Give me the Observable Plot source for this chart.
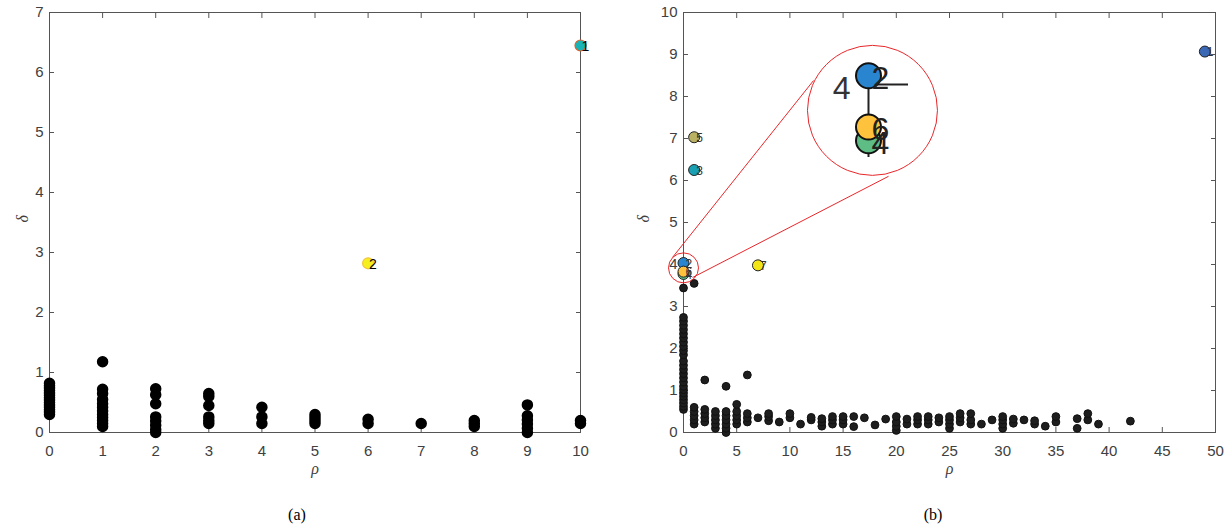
<!DOCTYPE html>
<html><head><meta charset="utf-8">
<script src="https://cdn.jsdelivr.net/npm/d3@7"></script>
<script src="https://cdn.jsdelivr.net/npm/@observablehq/plot@0.6"></script>
<style>
body{margin:0;background:#fff;}
#wrap{position:relative;width:1230px;height:528px;overflow:hidden;background:#fff;}
.panel{position:absolute;top:0;width:615px;height:500px;}
.cap{position:absolute;top:505px;font-family:"Liberation Serif","Times New Roman",serif;font-size:16px;color:#000;transform:translateX(-50%);line-height:20px;}
#inset{position:absolute;width:130px;height:130px;clip-path:circle(64px at 65px 65px);}
</style></head><body>
<div id="wrap">
  <div id="pa" class="panel" style="left:0px"></div>
  <div id="pb" class="panel" style="left:615px"></div>
  <div id="inset"></div>
  <div class="cap" style="left:297px">(a)</div>
  <div class="cap" style="left:933px">(b)</div>
</div>
<script>
// ---------- Panel (a) data ----------
const aXTicks = [0,1,2,3,4,5,6,7,8,9,10];
const aYTicks = [0,1,2,3,4,5,6,7];
const aColumns = [0,1,2,3,4,5,6,7,8,9,10];
const aDeltas = [
  [0.30,0.34,0.38,0.42,0.46,0.50,0.54,0.58,0.62,0.66,0.70,0.74,0.78,0.82],
  [1.18,0.72,0.65,0.55,0.48,0.42,0.36,0.30,0.25,0.20,0.15,0.10],
  [0.73,0.63,0.48,0.26,0.19,0.12,0.05,0.00],
  [0.65,0.60,0.45,0.26,0.20,0.15],
  [0.42,0.26,0.15],
  [0.30,0.25,0.20,0.15],
  [0.22,0.15],
  [0.15],
  [0.20,0.15,0.10],
  [0.46,0.28,0.21,0.14,0.07,0.00],
  [0.20,0.15]
];
const aPeakLabels = ["1","2"];
const aPeakRho = [10, 6];
const aPeakDelta = [6.45, 2.82];
const aPeakFill = ["#19b5b6", "#f4ef1d"];
const aPeakStroke = ["#da612c", "#f1c53c"];

// ---------- Panel (b) data ----------
const bXTicks = [0,5,10,15,20,25,30,35,40,45,50];
const bYTicks = [0,1,2,3,4,5,6,7,8,9,10];
const bColumns = [0,1,2,3,4,5,6,7,8,9,10,11,12,13,14,15,16,17,18,19,20,21,22,23,24,25,26,27,28,29,30,31,32,33,34,35,37,38,39,42];
const bDeltas = [
  [0.55,0.62,0.70,0.78,0.86,0.94,1.02,1.10,1.20,1.30,1.40,1.50,1.60,1.70,1.85,1.95,2.05,2.15,2.25,2.35,2.45,2.55,2.65,2.74,3.44],
  [0.20,0.30,0.40,0.50,0.60,3.55],
  [0.25,0.35,0.45,0.55,1.25],
  [0.10,0.20,0.30,0.40,0.50],
  [0.00,0.10,0.20,0.30,0.40,0.50,1.10],
  [0.20,0.30,0.40,0.50,0.67],
  [0.25,0.35,0.45,1.37],
  [0.35],
  [0.28,0.38,0.45],
  [0.25],
  [0.35,0.45],
  [0.20],
  [0.30,0.36],
  [0.15,0.25,0.33],
  [0.20,0.30,0.38],
  [0.20,0.30,0.38],
  [0.14,0.38],
  [0.35],
  [0.18],
  [0.32],
  [0.05,0.15,0.25,0.38],
  [0.20,0.32],
  [0.20,0.30,0.38],
  [0.20,0.30,0.38],
  [0.25,0.35],
  [0.10,0.20,0.30,0.38],
  [0.25,0.35,0.45],
  [0.20,0.30,0.45],
  [0.20],
  [0.30],
  [0.10,0.20,0.30,0.38],
  [0.22,0.32],
  [0.30],
  [0.20,0.28],
  [0.15],
  [0.25,0.38],
  [0.10,0.33],
  [0.30,0.45],
  [0.20],
  [0.27]
];
const bPeakLabels = ["1","2","3","4","5","6","7"];
const bPeakRho   = [49, 0, 1, 0, 1, 0, 7];
const bPeakDelta = [9.07, 4.035, 6.25, 3.775, 7.03, 3.83, 3.98];
const bPeakFill  = ["#3a68b5", "#2a85d0", "#1aa0b4", "#5dbd84", "#b9b264", "#fec23c", "#f2e617"];

// zoom annotation (in panel (b) data units)
const zoomSource = [{rho: 0, delta: 3.92}];
const zoomTarget = [{rho: 17.76, delta: 7.67}];
const zoomLinks = [
  {rho1: -1.03, delta1: 4.17, rho2: 12.22, delta2: 8.38},
  {rho1: 0.85, delta1: 3.69, rho2: 19.27, delta2: 6.10}
];
const insetLabels = ["2","4","6"];
const insetRhoDomain = [-0.244, 0.276];
const insetDeltaDomain = [3.636, 4.156];
const insetTick = [4];
const insetAxisBottom = 3.708;
const insetTickEnd = 0.16;

// ---------- helpers ----------
const sans = "'Liberation Sans', Arial, Helvetica, sans-serif";
const serif = "'Liberation Serif', 'Times New Roman', serif";
const axisGray = "#555";
const labelGray = "#404040";
const red = "#e8262a";

const flatten = (cols, deltas) => cols.flatMap((c, i) => deltas[i].map(d => ({rho: c, delta: d})));
const aPoints = flatten(aColumns, aDeltas);
const bPoints = flatten(bColumns, bDeltas);
const aPeaks = aPeakLabels.map((l, i) => ({label: l, rho: aPeakRho[i], delta: aPeakDelta[i], fill: aPeakFill[i], stroke: aPeakStroke[i]}));
const bPeaks = bPeakLabels.map((l, i) => ({label: l, rho: bPeakRho[i], delta: bPeakDelta[i], fill: bPeakFill[i]}));
const insetPeaks = bPeaks.filter(d => insetLabels.includes(d.label));

function boxAxes(xTicks, yTicks) {
  const t = {tickSize: -5, tickFormat: () => "", stroke: axisGray, strokeWidth: 1, label: null};
  const fmt = d => String(d);
  return [
    Plot.axisX({ticks: xTicks, anchor: "bottom", tickSize: 0, tickPadding: 13, tickFormat: fmt, fontSize: 15, fill: labelGray, label: null}),
    Plot.axisY({ticks: yTicks, anchor: "left", tickSize: 0, tickPadding: 6, tickFormat: fmt, fontSize: 15, fill: labelGray, label: null}),
    Plot.axisX({ticks: xTicks, anchor: "bottom", ...t}),
    Plot.axisX({ticks: xTicks, anchor: "top", ...t}),
    Plot.axisY({ticks: yTicks, anchor: "left", ...t}),
    Plot.axisY({ticks: yTicks, anchor: "right", ...t}),
    Plot.frame({stroke: axisGray, strokeWidth: 1})
  ];
}
function axisTitles(dxY) {
  return [
    Plot.text(["ρ"], {frameAnchor: "bottom", dy: 41, text: d => d, fontFamily: serif, fontStyle: "italic", fontSize: 16, fill: labelGray}),
    Plot.text(["δ"], {frameAnchor: "left", dx: dxY, rotate: -90, text: d => d, fontFamily: serif, fontStyle: "italic", fontSize: 16, fill: labelGray})
  ];
}

const chartA = Plot.plot({
  width: 615, height: 500,
  marginLeft: 49, marginRight: 35, marginTop: 12, marginBottom: 68,
  style: {fontFamily: sans, background: "transparent", overflow: "visible"},
  x: {domain: [0, 10], label: null},
  y: {domain: [0, 7], label: null},
  color: {type: "identity"},
  marks: [
    ...boxAxes(aXTicks, aYTicks),
    Plot.dot(aPoints, {x: "rho", y: "delta", r: 5, fill: "#000", stroke: "#000"}),
    Plot.dot(aPeaks, {x: "rho", y: "delta", r: 5.5, fill: "fill", stroke: "stroke", strokeWidth: 1.2}),
    Plot.text(aPeaks, {x: "rho", y: "delta", text: "label", textAnchor: "start", dx: 1, dy: 1, fontSize: 14, fill: "#000"}),
    ...axisTitles(-27)
  ]
});
document.getElementById("pa").appendChild(chartA);

const chartB = Plot.plot({
  width: 615, height: 500,
  marginLeft: 68, marginRight: 15, marginTop: 12, marginBottom: 68,
  style: {fontFamily: sans, background: "transparent", overflow: "visible"},
  x: {domain: [0, 50], label: null},
  y: {domain: [0, 10], label: null},
  color: {type: "identity"},
  marks: [
    ...boxAxes(bXTicks, bYTicks),
    Plot.dot(bPoints, {x: "rho", y: "delta", r: 3.9, fill: "#1e1e1e", stroke: "#111", strokeWidth: 1}),
    Plot.dot(bPeaks, {x: "rho", y: "delta", r: 5.5, fill: "fill", stroke: "#222", strokeWidth: 1}),
    Plot.text(bPeaks, {x: "rho", y: "delta", text: "label", textAnchor: "start", dx: 2, dy: 1, fontSize: 12, fill: "#333"}),
    Plot.dot(zoomSource, {x: "rho", y: "delta", r: 15, fill: "none", stroke: red, strokeWidth: 1}),
    Plot.dot(zoomTarget, {x: "rho", y: "delta", r: 65, fill: "none", stroke: red, strokeWidth: 1}),
    Plot.link(zoomLinks, {x1: "rho1", y1: "delta1", x2: "rho2", y2: "delta2", stroke: red, strokeWidth: 1}),
    ...axisTitles(-40)
  ]
});
document.getElementById("pb").appendChild(chartB);

// ---------- magnified inset ----------
const inset = Plot.plot({
  width: 130, height: 130, margin: 0,
  style: {fontFamily: sans, background: "transparent"},
  x: {domain: insetRhoDomain, axis: null},
  y: {domain: insetDeltaDomain, axis: null},
  color: {type: "identity"},
  marks: [
    Plot.ruleY(insetTick, {y: d => d, x1: 0, x2: insetTickEnd, stroke: "#222", strokeWidth: 2}),
    Plot.ruleX([0], {x: d => d, y1: insetAxisBottom, y2: insetTick[0], stroke: "#222", strokeWidth: 2}),
    Plot.text(insetTick, {x: 0, y: d => d, text: d => String(d), textAnchor: "end", dx: -18, dy: 4, fontSize: 32, fill: "#333"}),
    Plot.dot(insetPeaks, {x: "rho", y: "delta", r: 12.5, fill: "fill", stroke: "#111", strokeWidth: 2}),
    Plot.text(insetPeaks, {x: "rho", y: "delta", text: "label", dx: 12, dy: 3, fontSize: 32, fill: "#222"})
  ]
});
const insetDiv = document.getElementById("inset");
insetDiv.appendChild(inset);
const sx = chartB.scale("x"), sy = chartB.scale("y");
insetDiv.style.left = (615 + sx.apply(zoomTarget[0].rho) - 65) + "px";
insetDiv.style.top = (sy.apply(zoomTarget[0].delta) - 65) + "px";
</script>
</body></html>
